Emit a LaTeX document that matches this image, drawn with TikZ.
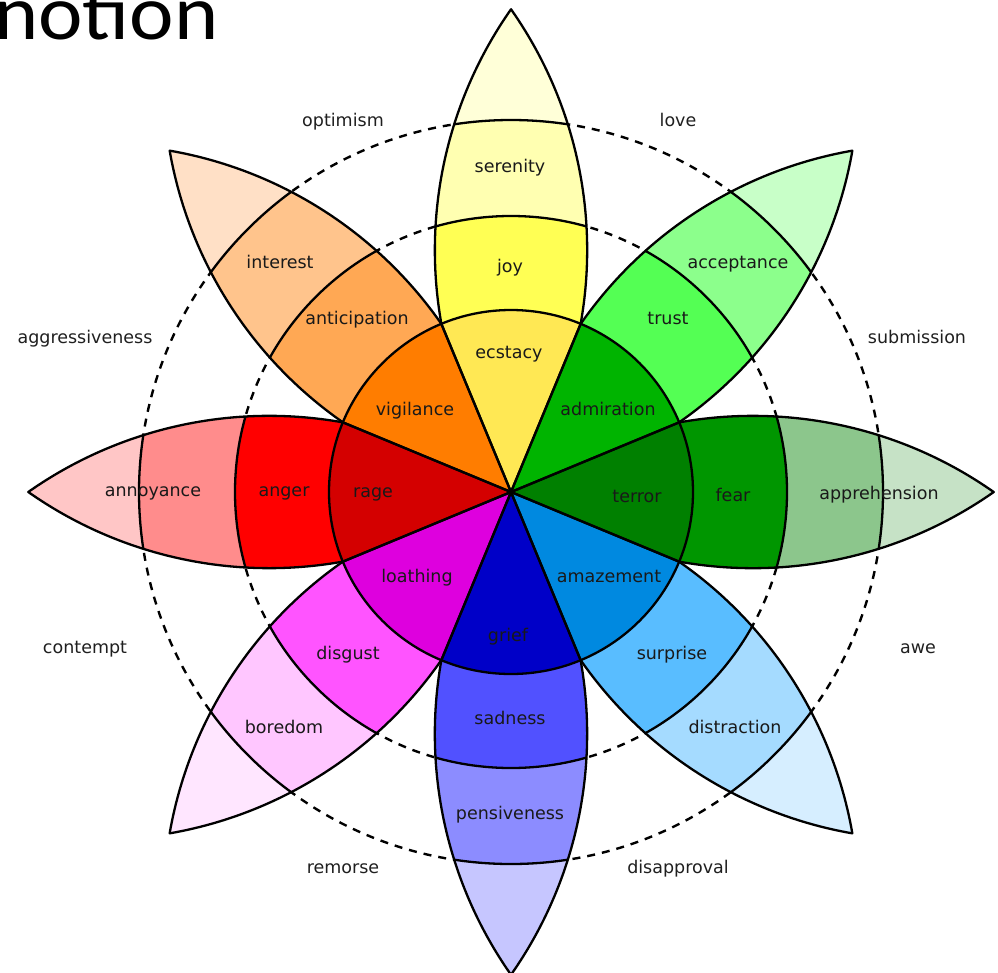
\documentclass[tikz,border=0pt]{standalone}
\usepackage{fontspec}
\setmainfont{DejaVu Sans}
\newfontfamily\titlefont{Carlito}
% top (joy)
\definecolor{tA}{HTML}{FFE854}\definecolor{tB}{HTML}{FFFF54}\definecolor{tC}{HTML}{FFFFB1}\definecolor{tD}{HTML}{FFFFD8}
% top-right (trust)
\definecolor{trA}{HTML}{00B400}\definecolor{trB}{HTML}{54FF54}\definecolor{trC}{HTML}{8CFF8C}\definecolor{trD}{HTML}{C8FFC8}
% right (fear)
\definecolor{rA}{HTML}{008000}\definecolor{rB}{HTML}{009600}\definecolor{rC}{HTML}{8CC68C}\definecolor{rD}{HTML}{C6E2C6}
% bottom-right (surprise)
\definecolor{brA}{HTML}{0089E0}\definecolor{brB}{HTML}{59BDFF}\definecolor{brC}{HTML}{A5DBFF}\definecolor{brD}{HTML}{D6EEFF}
% bottom (sadness)
\definecolor{bA}{HTML}{0000C8}\definecolor{bB}{HTML}{5151FF}\definecolor{bC}{HTML}{8C8CFF}\definecolor{bD}{HTML}{C6C6FF}
% bottom-left (disgust)
\definecolor{blA}{HTML}{DE00DE}\definecolor{blB}{HTML}{FF54FF}\definecolor{blC}{HTML}{FFC6FF}\definecolor{blD}{HTML}{FFE6FF}
% left (anger)
\definecolor{lA}{HTML}{D40000}\definecolor{lB}{HTML}{FF0000}\definecolor{lC}{HTML}{FF8C8C}\definecolor{lD}{HTML}{FFC6C6}
% top-left (anticipation)
\definecolor{tlA}{HTML}{FF7D00}\definecolor{tlB}{HTML}{FFA854}\definecolor{tlC}{HTML}{FFC48C}\definecolor{tlD}{HTML}{FFE0C6}
\tikzset{
  petalshape/.style={insert path={(0,0) -- (168.1,69.6)
      arc[start angle=100.15, end angle=54.9, radius=418.85]
      arc[start angle=-54.9, end angle=-100.15, radius=418.85] -- cycle}},
  outline/.style={draw=black, line width=2.3pt, line join=round},
  ring/.style={draw=black, line width=2.4pt, dash pattern=on 8pt off 7pt},
  lbl/.style={font=\fontsize{17.5}{20}\selectfont, text=black!90, anchor=mid, inner sep=0pt, yshift=-3.5pt},
  outer/.style={font=\fontsize{17.5}{20}\selectfont, text=black!88, anchor=mid, inner sep=0pt, yshift=-3.5pt},
}
\begin{document}
\begin{tikzpicture}[x=1pt,y=1pt]
\useasboundingbox (0,0) rectangle (998,-972);
\coordinate (c) at (511,-492);
% dashed rings behind the petals
\draw[ring] (c) circle[radius=276];
\draw[ring] (c) circle[radius=372];
% fills
\foreach \ang/\ca/\cb/\cc/\cd in {90/tA/tB/tC/tD, 45/trA/trB/trC/trD, 0/rA/rB/rC/rD,
  -45/brA/brB/brC/brD, -90/bA/bB/bC/bD, -135/blA/blB/blC/blD, 180/lA/lB/lC/lD, 135/tlA/tlB/tlC/tlD}{
  \begin{scope}[shift={(c)}, rotate=\ang]
    \clip[petalshape];
    \fill[\cd] (0,0) circle[radius=500];
    \fill[\cc] (0,0) circle[radius=372];
    \fill[\cb] (0,0) circle[radius=276];
    \fill[\ca] (0,0) circle[radius=182];
    \draw[outline] (0,0) circle[radius=372];
    \draw[outline] (0,0) circle[radius=276];
  \end{scope}
}
% outlines
\foreach \ang in {90,45,0,-45,-90,-135,180,135}{
  \draw[outline, shift={(c)}, rotate=\ang] [petalshape];
}
\draw[outline] (c) circle[radius=182];
% title
\node[anchor=base west, inner sep=0pt, font=\titlefont\fontsize{78}{80}\selectfont, xscale=1.08] (title) at (-6,-39) {notion};
% inner labels
\node[lbl] (ecstacy) at (509,-352) {ecstacy};
\node[lbl] (admiration) at (608,-409) {admiration};
\node[lbl] (terror) at (637,-496) {terror};
\node[lbl] (amazement) at (609,-576) {amazement};
\node[lbl] (grief) at (508,-635) {grief};
\node[lbl] (loathing) at (417,-576) {loathing};
\node[lbl] (rage) at (373,-491) {rage};
\node[lbl] (vigilance) at (415,-409) {vigilance};
% middle labels
\node[lbl] (joy) at (510,-266) {joy};
\node[lbl] (trust) at (668,-318) {trust};
\node[lbl] (fear) at (733,-495) {fear};
\node[lbl] (surprise) at (672,-653) {surprise};
\node[lbl] (sadness) at (510,-718) {sadness};
\node[lbl] (disgust) at (348,-653) {disgust};
\node[lbl] (anger) at (284,-490) {anger};
\node[lbl] (anticipation) at (357,-318) {anticipation};
% outer band labels
\node[lbl] (serenity) at (510,-166) {serenity};
\node[lbl] (acceptance) at (738,-262) {acceptance};
\node[lbl] (apprehension) at (879,-493) {apprehension};
\node[lbl] (distraction) at (735,-727) {distraction};
\node[lbl] (pensiveness) at (510,-813) {pensiveness};
\node[lbl] (boredom) at (284,-727) {boredom};
\node[lbl] (annoyance) at (153,-490) {annoyance};
\node[lbl] (interest) at (280,-262) {interest};
% dyads
\node[outer] (optimism) at (343,-120) {optimism};
\node[outer] (love) at (678,-120) {love};
\node[outer] (submission) at (917,-337) {submission};
\node[outer] (awe) at (918,-647) {awe};
\node[outer] (disapproval) at (678,-867) {disapproval};
\node[outer] (remorse) at (343,-867) {remorse};
\node[outer] (contempt) at (85,-647) {contempt};
\node[outer] (aggressiveness) at (85,-337) {aggressiveness};
\end{tikzpicture}
\end{document}
